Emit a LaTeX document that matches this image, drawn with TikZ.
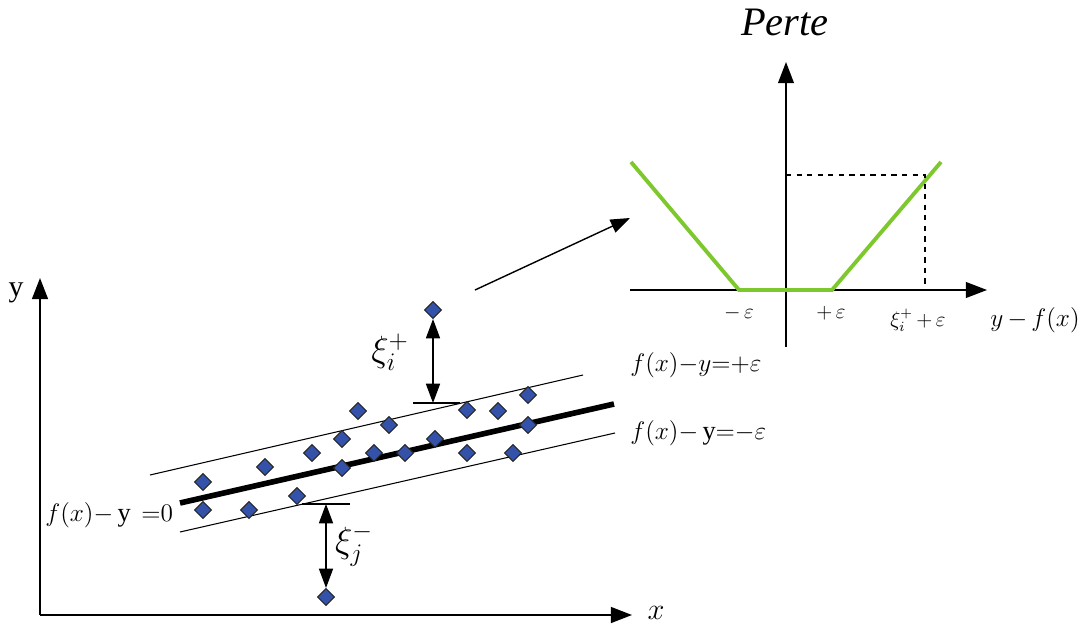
\documentclass[tikz,border=0pt]{standalone}
\usepackage{fontspec}
\setmainfont{Liberation Serif}
\usetikzlibrary{arrows.meta,shapes.geometric}
\definecolor{ptblue}{RGB}{52,82,170}
\definecolor{lossgreen}{RGB}{125,200,45}

\begin{document}
\begin{tikzpicture}[
      x=0.02cm, y=-0.02cm,
      font=\fontsize{15}{17}\selectfont,
      axis/.style={line width=1.1pt, -{Triangle[length=12pt,width=9pt]}},
      band/.style={line width=0.6pt},
      fit/.style={line width=3.2pt},
      pt/.style={diamond, draw=black!85, fill=ptblue, line width=0.6pt,
        inner sep=0pt, minimum size=0.34cm},
      gap/.style={line width=0.8pt,
        {Triangle[length=11pt,width=8pt]}-{Triangle[length=11pt,width=8pt]}},
      tick/.style={line width=0.7pt},
      loss/.style={lossgreen, line width=2.2pt},
      guide/.style={dashed, line width=0.8pt},
      small/.style={font=\fontsize{12}{14}\selectfont}
    ]
    \useasboundingbox (0,0) rectangle (1079,625);

    % left plot: axes
    \coordinate (O) at (40,615);
    \coordinate (Y) at (40,278);
    \coordinate (X) at (632,615);
    \draw[axis] (O) -- (Y);
    \draw[axis] (O) -- (X);
    \node (ylab) at (16,293) {\fontsize{17}{19}\selectfont y};
    \node (xlab) at (656,613) {\fontsize{17}{19}\selectfont$x$};

    % tube
    \draw[band] (150,475) -- (583,375);
    \draw[fit]  (180,503) -- (614,404);
    \draw[band] (180,532) -- (615,433);

    % data points
    \foreach \px/\py [count=\i] in {203/482, 265/467, 312/453, 342/439, 358/411,
        389/425, 342/468, 374/453, 405/453, 435/439, 467/410, 498/411,
        528/395, 528/425, 467/453, 513/453, 203/510, 249/510, 297/496}
      \node[pt] (p\i) at (\px,\py) {};
    \node[pt] (pu) at (433,310) {};
    \node[pt] (pd) at (326,597) {};

    % slack variables
    \coordinate (tu) at (433,403);
    \draw[tick] (413,403) -- (460,403);
    \draw[gap] (tu) -- (pu.south);
    \node (xiu) at (390,352) {\fontsize{20}{22}\selectfont$\xi_i^+$};
    \coordinate (td) at (326,504);
    \draw[tick] (302,504) -- (350,504);
    \draw[gap] (td) -- (pd.north);
    \node (xid) at (354,545) {\fontsize{20}{22}\selectfont$\xi_j^-$};

    \node[anchor=west, inner sep=0pt] (lp) at (630,365) {$f(x){-}y{=}{+}\varepsilon$};
    \node[anchor=west, inner sep=0pt] (lm) at (630,433) {$f(x){-}\,\mathrm{y}{=}{-}\varepsilon$};
    \node[anchor=west, inner sep=0pt] (l0) at (45,515) {$f(x){-}\,\mathrm{y}\ \,{=}0$};

    % link to loss plot
    \coordinate (a1) at (475,290);
    \coordinate (a2) at (630,218);
    \draw[line width=0.8pt, -{Triangle[length=11pt,width=8pt]}] (a1) -- (a2);

    % right plot: epsilon-insensitive loss
    \coordinate (o) at (786,290);
    \coordinate (vt) at (786,62);
    \coordinate (vb) at (786,347);
    \coordinate (hl) at (630,290);
    \coordinate (hr) at (987,290);
    \draw[axis, line width=0.8pt] (vb) -- (vt);
    \draw[axis, line width=0.8pt] (hl) -- (hr);
    \draw[loss] (631,162) -- (739,290) -- (832,290) -- (941,162);
    \coordinate (q) at (925,175);
    \draw[guide] (786,175) -- (q) -- (925,285);

    \node (perte) at (785,22) {\fontsize{23}{25}\selectfont\itshape Perte};
    \node[small] (em) at (739,313) {$-\,\varepsilon$};
    \node[small] (epp) at (831,313) {$+\,\varepsilon$};
    \node[small] (xe) at (918,320) {$\xi_i^+\,{+}\,\varepsilon$};
    \node (yf) at (1035,320) {$y\,{-}\,f(x)$};
  \end{tikzpicture}
\end{document}
